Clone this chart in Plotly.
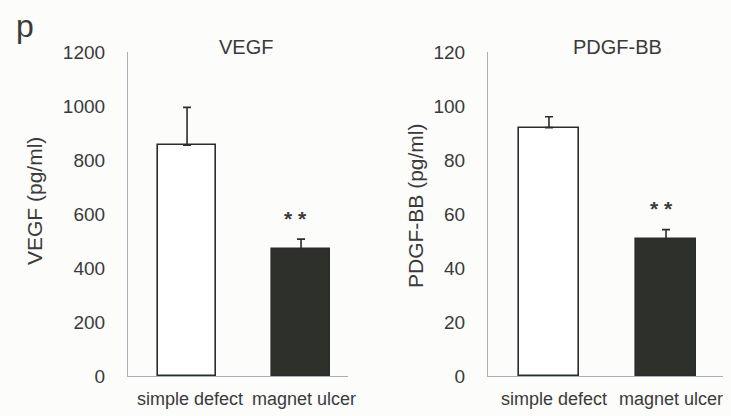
import plotly.graph_objects as go

categories = ["simple defect", "magnet ulcer"]
vegf_mean = [855, 470]
vegf_err = [140, 37]
pdgf_mean = [92, 50.7]
pdgf_err = [4, 3.5]
vegf_ticks = [0, 200, 400, 600, 800, 1000, 1200]
pdgf_ticks = [0, 20, 40, 60, 80, 100, 120]

W, H = 731, 416
FONT = "Liberation Sans, Arial, sans-serif"
TXT = "#3a3a3a"
BAR_FILL = ["#ffffff", "#2e302c"]
EDGE = "#2a2d2d"
AX = "#a9b0b6"

fig = go.Figure()

fig.add_trace(go.Bar(
    x=[0, 1], y=vegf_mean, width=0.51,
    marker=dict(color=BAR_FILL, line=dict(color=EDGE, width=1.6)),
    error_y=dict(type="data", symmetric=False, array=vegf_err, arrayminus=[0, 0],
                 color=EDGE, thickness=1.6, width=4),
    xaxis="x", yaxis="y", showlegend=False))

fig.add_trace(go.Bar(
    x=[0, 1], y=pdgf_mean, width=0.51,
    marker=dict(color=BAR_FILL, line=dict(color=EDGE, width=1.6)),
    error_y=dict(type="data", symmetric=False, array=pdgf_err, arrayminus=[0, 0],
                 color=EDGE, thickness=1.6, width=4),
    xaxis="x2", yaxis="y2", showlegend=False))

ydom = [40 / H, 364 / H]
common_x = dict(showgrid=False, zeroline=False, showline=True, linecolor=AX, linewidth=1.2,
                ticks="", tickmode="array", tickvals=[0, 1], ticktext=categories,
                automargin=False, ticklabelstandoff=6,
                tickfont=dict(family=FONT, size=18, color=TXT))
common_y = dict(showgrid=False, zeroline=False, showline=True, linecolor=AX, linewidth=1.2,
                ticks="", tickmode="array", automargin=False, ticklabelstandoff=18,
                tickfont=dict(family=FONT, size=19, color=TXT))

fig.update_layout(
    width=W, height=H,
    margin=dict(l=0, r=0, t=0, b=0),
    paper_bgcolor="#fcfcfa", plot_bgcolor="#fcfcfa",
    bargap=0,
    xaxis=dict(domain=[128 / W, 348 / W], range=[-0.518, 1.412], anchor="y",
               ticklabelshift=3, **common_x),
    yaxis=dict(domain=ydom, range=[0, 1200], anchor="x", tickvals=vegf_ticks, **common_y),
    xaxis2=dict(domain=[488 / W, 723 / W], range=[-0.521, 1.487], anchor="y2",
                ticklabelshift=5, **common_x),
    yaxis2=dict(domain=ydom, range=[0, 120], anchor="x2", tickvals=pdgf_ticks, **common_y),
)

def pann(text, x, y, size, angle=0):
    return dict(text=text, x=x / W, y=1 - y / H, xref="paper", yref="paper",
                xanchor="center", yanchor="middle", showarrow=False, textangle=angle,
                font=dict(family=FONT, size=size, color=TXT))

ann = [
    pann("p", 25, 26, 32),
    pann("VEGF", 246, 47, 20),
    pann("PDGF-BB", 617, 47, 20),
    pann("VEGF (pg/ml)", 35, 201, 21, -90),
    pann("PDGF-BB (pg/ml)", 415, 205, 21, -90),
    dict(text="<b>* *</b>", x=1, y=vegf_mean[1] + vegf_err[1], xref="x", yref="y", yshift=21,
         xshift=-6, showarrow=False, font=dict(family=FONT, size=21, color=TXT)),
    dict(text="<b>* *</b>", x=1, y=pdgf_mean[1] + pdgf_err[1], xref="x2", yref="y2", yshift=21,
         xshift=-5, showarrow=False, font=dict(family=FONT, size=21, color=TXT)),
]
fig.update_layout(annotations=ann)

fig.write_html("out.html")
